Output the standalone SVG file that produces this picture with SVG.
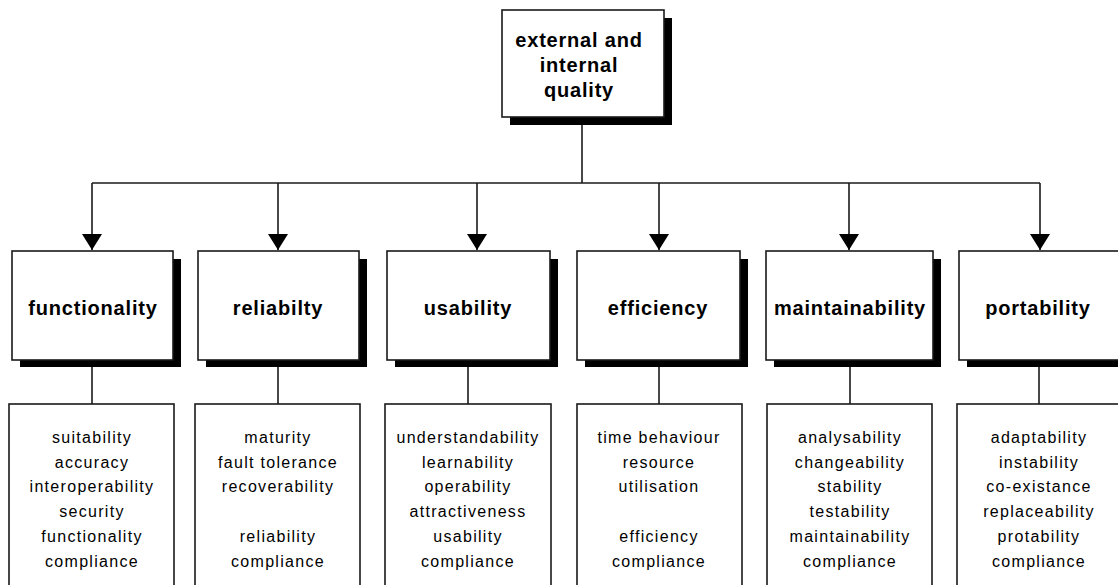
<svg xmlns="http://www.w3.org/2000/svg" width="1118" height="585" viewBox="0 0 1118 585">
<defs>
<marker id="arr" markerUnits="userSpaceOnUse" markerWidth="20" markerHeight="17" refX="10" refY="16" orient="0" viewBox="0 0 20 17">
<path d="M0,0 L20,0 L10,16 Z" fill="#000"/>
</marker>
</defs>
<style>
.box{fill:#fff;stroke:#1a1a1a;stroke-width:1.6}
.sh{fill:#000}
.ln{fill:none;stroke:#1a1a1a;stroke-width:1.6}
.hd{font-family:"Liberation Sans",Arial,sans-serif;font-weight:bold;font-size:20px;letter-spacing:0.8px;text-anchor:middle;fill:#000}
.it{font-family:"Liberation Sans",Arial,sans-serif;font-size:16px;letter-spacing:1.3px;text-anchor:middle;fill:#000}
</style>
<rect width="1118" height="585" fill="#fff"/>
<g id="connectors">
<path class="ln" d="M582,125 V183"/>
<path class="ln" d="M92,183 H1040"/>
<path class="ln" d="M92,183 V250" marker-end="url(#arr)"/>
<path class="ln" d="M278,183 V250" marker-end="url(#arr)"/>
<path class="ln" d="M477,183 V250" marker-end="url(#arr)"/>
<path class="ln" d="M659,183 V250" marker-end="url(#arr)"/>
<path class="ln" d="M849,183 V250" marker-end="url(#arr)"/>
<path class="ln" d="M1040,183 V250" marker-end="url(#arr)"/>
<path class="ln" d="M92,367 V404"/>
<path class="ln" d="M278,367 V404"/>
<path class="ln" d="M468,367 V404"/>
<path class="ln" d="M659,367 V404"/>
<path class="ln" d="M850,367 V404"/>
<path class="ln" d="M1039,367 V404"/>
</g>
<g id="root">
<rect class="sh" x="510" y="18" width="162" height="107"/>
<rect class="box" x="502" y="10" width="162" height="107"/>
<text class="hd" x="579" y="47">external and</text>
<text class="hd" x="579" y="72">internal</text>
<text class="hd" x="579" y="97">quality</text>
</g>
<g id="functionality">
<rect class="sh" x="20" y="259" width="161" height="108"/>
<rect class="box" x="12" y="251" width="161" height="109"/>
<text class="hd" x="93" y="315">functionality</text>
</g>
<g id="reliability">
<rect class="sh" x="206" y="259" width="161" height="108"/>
<rect class="box" x="198" y="251" width="161" height="109"/>
<text class="hd" x="278" y="315">reliabilty</text>
</g>
<g id="usability">
<rect class="sh" x="395" y="259" width="163" height="108"/>
<rect class="box" x="387" y="251" width="163" height="109"/>
<text class="hd" x="468" y="315">usability</text>
</g>
<g id="efficiency">
<rect class="sh" x="585" y="259" width="163" height="108"/>
<rect class="box" x="577" y="251" width="163" height="109"/>
<text class="hd" x="658" y="315">efficiency</text>
</g>
<g id="maintainability">
<rect class="sh" x="774" y="259" width="167" height="108"/>
<rect class="box" x="766" y="251" width="167" height="109"/>
<text class="hd" x="850" y="315">maintainability</text>
</g>
<g id="portability">
<rect class="sh" x="967" y="259" width="165" height="108"/>
<rect class="box" x="959" y="251" width="165" height="109"/>
<text class="hd" x="1038" y="315">portability</text>
</g>
<g id="functionality-items">
<rect class="box" x="9" y="404" width="165" height="190"/>
<text class="it" x="92" y="443">suitability</text>
<text class="it" x="92" y="468">accuracy</text>
<text class="it" x="92" y="492">interoperability</text>
<text class="it" x="92" y="517">security</text>
<text class="it" x="92" y="542">functionality</text>
<text class="it" x="92" y="567">compliance</text>
</g>
<g id="reliability-items">
<rect class="box" x="195" y="404" width="165" height="190"/>
<text class="it" x="278" y="443">maturity</text>
<text class="it" x="278" y="468">fault tolerance</text>
<text class="it" x="278" y="492">recoverability</text>
<text class="it" x="278" y="542">reliability</text>
<text class="it" x="278" y="567">compliance</text>
</g>
<g id="usability-items">
<rect class="box" x="385" y="404" width="166" height="190"/>
<text class="it" x="468" y="443">understandability</text>
<text class="it" x="468" y="468">learnability</text>
<text class="it" x="468" y="492">operability</text>
<text class="it" x="468" y="517">attractiveness</text>
<text class="it" x="468" y="542">usability</text>
<text class="it" x="468" y="567">compliance</text>
</g>
<g id="efficiency-items">
<rect class="box" x="577" y="404" width="165" height="190"/>
<text class="it" x="659" y="443">time behaviour</text>
<text class="it" x="659" y="468">resource</text>
<text class="it" x="659" y="492">utilisation</text>
<text class="it" x="659" y="542">efficiency</text>
<text class="it" x="659" y="567">compliance</text>
</g>
<g id="maintainability-items">
<rect class="box" x="767" y="404" width="165" height="190"/>
<text class="it" x="850" y="443">analysability</text>
<text class="it" x="850" y="468">changeability</text>
<text class="it" x="850" y="492">stability</text>
<text class="it" x="850" y="517">testability</text>
<text class="it" x="850" y="542">maintainability</text>
<text class="it" x="850" y="567">compliance</text>
</g>
<g id="portability-items">
<rect class="box" x="957" y="404" width="166" height="190"/>
<text class="it" x="1039" y="443">adaptability</text>
<text class="it" x="1039" y="468">instability</text>
<text class="it" x="1039" y="492">co-existance</text>
<text class="it" x="1039" y="517">replaceability</text>
<text class="it" x="1039" y="542">protability</text>
<text class="it" x="1039" y="567">compliance</text>
</g>
</svg>
